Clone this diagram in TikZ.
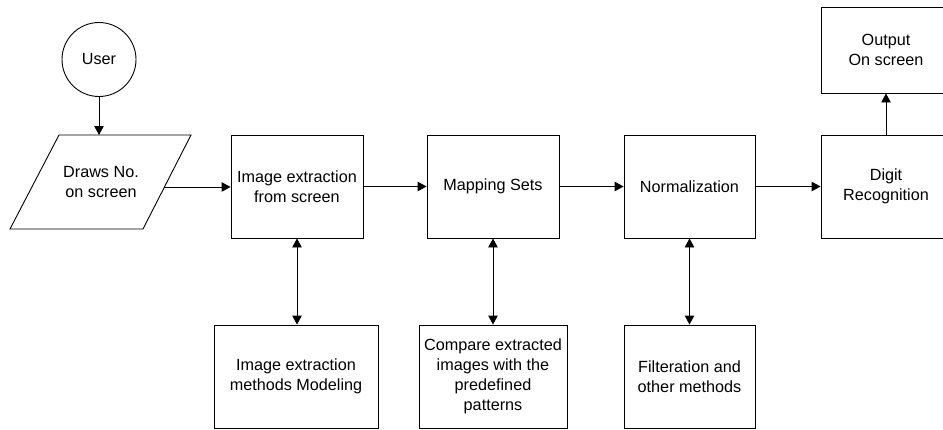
\documentclass[tikz,border=0pt]{standalone}
\usepackage{fontspec}
\setmainfont{Liberation Sans}
\usetikzlibrary{arrows.meta,calc}

\begin{document}
\begin{tikzpicture}[x=1pt,y=-1pt,
  line width=0.9pt,
  every node/.style={font=\fontsize{16.2}{20}\selectfont, align=center},
  procbox/.style={draw, rectangle, inner sep=0pt, minimum height=103pt},
  flow/.style={-{Triangle[length=9pt,width=9.5pt]}},
  both/.style={{Triangle[length=9pt,width=9.5pt]}-{Triangle[length=9pt,width=9.5pt]}}
]
\useasboundingbox (0,0) rectangle (943,429);

% start terminal
\node[draw, circle, minimum size=74pt, inner sep=0pt] (user) at (99,59.5) {User};

% input parallelogram
\coordinate (pbl) at (10,229);
\coordinate (ptl) at (59,135);
\coordinate (ptr) at (191,135);
\coordinate (pbr) at (143,229);
\draw (pbl) -- (ptl) -- (ptr) -- (pbr) -- cycle;
\node (draws) at (101,182) {Draws No.\\on screen};
\coordinate (ptop) at (99,135);
\coordinate (pout) at ($(ptr)!0.553!(pbr)$);

% main process row
\node[procbox, minimum width=132pt] (extract) at (297,186.5) {Image extraction\\from screen};
\node[procbox, minimum width=132pt] (mapping) at (493,186.5) {Mapping Sets};
\node[procbox, minimum width=131pt] (norm) at (689.5,186.5) {Normalization};
\node[procbox, minimum width=130pt] (digit) at (886,186.5) {Digit\\Recognition};
\node[procbox, minimum width=130pt, minimum height=86pt] (output) at (886,50) {Output\\On screen};

% supporting methods row
\node[procbox, minimum width=164pt] (methods) at (296,376.5) {Image extraction\\methods Modeling};
\node[procbox, minimum width=148pt] (compare) at (493,376.5) {Compare extracted\\images with the\\predefined\\patterns};
\node[procbox, minimum width=131pt] (filter) at (689.5,376.5) {Filteration and\\other methods};

% connectors
\draw[flow] (user.south) -- (ptop);
\draw[flow] (pout) -- (pout -| extract.west);
\draw[flow] (extract.east) -- (mapping.west);
\draw[flow] (mapping.east) -- (norm.west);
\draw[flow] (norm.east) -- (digit.west);
\draw[flow] (digit.north) -- (output.south);

\draw[both] (extract.south) -- (extract.south |- methods.north);
\draw[both] (mapping.south) -- (compare.north);
\draw[both] (norm.south) -- (filter.north);
\end{tikzpicture}
\end{document}
